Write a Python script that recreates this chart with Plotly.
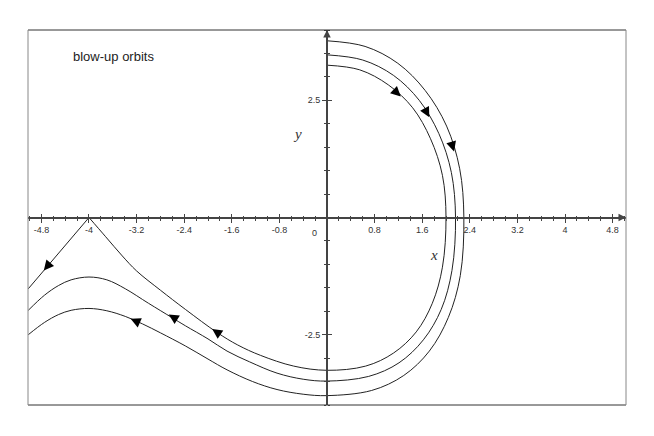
import plotly.graph_objects as go

inner_x = [0.0, 0.55, 1.03, 1.44, 1.74, 1.94, 2.0, 1.94, 1.77, 1.50, 1.12, 0.65, 0.0,
           -0.56, -1.12, -1.5, -1.84, -2.38, -2.80, -3.2, -3.44, -3.72, -4.0]
inner_y = [3.25, 3.15, 2.83, 2.34, 1.68, 0.90, 0.0, -1.06, -1.83, -2.44, -2.89, -3.17, -3.26,
           -3.17, -2.94, -2.72, -2.46, -1.96, -1.55, -1.14, -0.82, -0.41, 0.0]

# the inner orbit reaches (-4, 0) and then leaves along a straight line
escape_x = [-4.0, -5.02]
escape_y = [0.0, -1.52]

middle_x = [0.0, 0.60, 1.12, 1.55, 1.88, 2.09, 2.16, 2.10, 1.92, 1.62, 1.21, 0.70, 0.0,
            -0.4, -0.84, -1.3, -1.68, -2.0, -2.38, -2.6, -3.0, -3.39, -3.7, -4.0, -4.3, -4.51, -4.75, -5.02]
middle_y = [3.47, 3.36, 3.03, 2.50, 1.79, 0.96, 0.0, -1.13, -1.96, -2.61, -3.10, -3.39, -3.49,
            -3.45, -3.32, -3.08, -2.85, -2.59, -2.31, -2.14, -1.83, -1.52, -1.33, -1.27, -1.33, -1.45, -1.66, -1.98]

outer_x = [0.0, 0.64, 1.19, 1.65, 2.01, 2.23, 2.30, 2.24, 2.04, 1.72, 1.29, 0.75, 0.0,
           -0.4, -0.84, -1.25, -1.68, -2.0, -2.38, -2.80, -3.1, -3.39, -3.7, -4.0, -4.3, -4.51, -4.75, -5.02]
outer_y = [3.77, 3.65, 3.29, 2.71, 1.95, 1.04, 0.0, -1.24, -2.13, -2.85, -3.37, -3.69, -3.80,
           -3.77, -3.67, -3.50, -3.25, -3.02, -2.74, -2.46, -2.27, -2.11, -1.99, -1.94, -1.98, -2.07, -2.24, -2.50]

# direction arrows on the orbits: tip and a point just behind it on the curve
arrow_tip_x = [1.24, 1.72, 2.135, -1.93, -2.66, -3.30, -4.76]
arrow_tip_y = [2.58, 2.14, 1.41, -2.38, -2.07, -2.16, -1.13]
arrow_tail_x = [1.14, 1.66, 2.09, -1.80, -2.52, -3.16, -4.66]
arrow_tail_y = [2.70, 2.28, 1.60, -2.49, -2.18, -2.24, -0.98]

x_ticks = [-4.8, -4, -3.2, -2.4, -1.6, -0.8, 0, 0.8, 1.6, 2.4, 3.2, 4, 4.8]
x_labels = ["-4.8", "-4", "-3.2", "-2.4", "-1.6", "-0.8", "", "0.8", "1.6", "2.4", "3.2", "4", "4.8"]
y_ticks = [-2.5, 2.5]
y_labels = ["-2.5", "2.5"]

X_RANGE = [-5.025, 5.025]
Y_RANGE = [-4.0, 4.0]
INK = "#222"
AXIS = "#444"

fig = go.Figure()
for xs, ys in [(inner_x, inner_y), (middle_x, middle_y), (outer_x, outer_y)]:
    fig.add_trace(go.Scatter(x=xs, y=ys, mode="lines", hoverinfo="skip",
                             line=dict(color=INK, width=1, shape="spline", smoothing=1)))
fig.add_trace(go.Scatter(x=escape_x, y=escape_y, mode="lines", hoverinfo="skip",
                         line=dict(color=INK, width=1)))
# carrier for the mirrored tick axes
fig.add_trace(go.Scatter(x=[None], y=[None], xaxis="x2", yaxis="y2", hoverinfo="skip"))

tick_common = dict(tickcolor=AXIS, tickwidth=1, showgrid=False, zeroline=False)

# page body adds 8px, so the figure is shrunk and shifted to keep the frame where it belongs
fig.update_layout(
    width=646, height=428,
    margin=dict(l=20, r=28, t=22, b=31),
    paper_bgcolor="white", plot_bgcolor="white",
    showlegend=False,
    font=dict(family="Liberation Sans, Arial, sans-serif", size=9, color="#333"),
    xaxis=dict(range=X_RANGE, anchor="free", position=0.5, showline=True, linecolor=AXIS, linewidth=2,
               tickmode="array", tickvals=x_ticks, ticktext=x_labels, ticks="outside", ticklen=4,
               minor=dict(tick0=0, dtick=0.2, ticks="outside", ticklen=2, tickcolor=AXIS, showgrid=False),
               **tick_common),
    xaxis2=dict(range=X_RANGE, matches="x", overlaying="x", anchor="free", position=0.5, side="top",
                showline=False, showticklabels=False,
                tickmode="array", tickvals=x_ticks, ticks="outside", ticklen=4,
                minor=dict(tick0=0, dtick=0.2, ticks="outside", ticklen=2, tickcolor=AXIS, showgrid=False),
                **tick_common),
    yaxis=dict(range=Y_RANGE, anchor="free", position=0.5, showline=True, linecolor=AXIS, linewidth=2,
               tickmode="array", tickvals=y_ticks, ticktext=y_labels, ticks="outside", ticklen=4,
               minor=dict(tick0=0, dtick=0.5, ticks="outside", ticklen=2, tickcolor=AXIS, showgrid=False),
               **tick_common),
    yaxis2=dict(range=Y_RANGE, matches="y", overlaying="y", anchor="free", position=0.5, side="right",
                showline=False, showticklabels=False,
                tickmode="array", tickvals=y_ticks, ticks="outside", ticklen=4,
                minor=dict(tick0=0, dtick=0.5, ticks="outside", ticklen=2, tickcolor=AXIS, showgrid=False),
                **tick_common),
)

# frame: dark top and bottom, lighter sides
fig.add_shape(type="line", xref="paper", yref="paper", x0=0, y0=1, x1=1, y1=1, line=dict(color="#333", width=1))
fig.add_shape(type="line", xref="paper", yref="paper", x0=0, y0=0, x1=1, y1=0, line=dict(color="#333", width=1))
fig.add_shape(type="line", xref="paper", yref="paper", x0=0, y0=0, x1=0, y1=1, line=dict(color="#888", width=1))
fig.add_shape(type="line", xref="paper", yref="paper", x0=1, y0=0, x1=1, y1=1, line=dict(color="#888", width=1))

# arrowheads on the orbits
for tx, ty, sx, sy in zip(arrow_tip_x, arrow_tip_y, arrow_tail_x, arrow_tail_y):
    fig.add_annotation(x=tx, y=ty, ax=sx, ay=sy, xref="x", yref="y", axref="x", ayref="y",
                       text="", showarrow=True, arrowhead=2, arrowsize=2, arrowwidth=1,
                       arrowcolor="black", standoff=0)

# arrowheads at the ends of the axes
fig.add_annotation(x=X_RANGE[1], y=0, ax=X_RANGE[1] - 0.15, ay=0, xref="x", yref="y", axref="x", ayref="y",
                   text="", showarrow=True, arrowhead=2, arrowsize=0.75, arrowwidth=2, arrowcolor=AXIS)
fig.add_annotation(x=0, y=Y_RANGE[1], ax=0, ay=Y_RANGE[1] - 0.2, xref="x", yref="y", axref="x", ayref="y",
                   text="", showarrow=True, arrowhead=2, arrowsize=0.75, arrowwidth=2, arrowcolor=AXIS)

# origin label sits to the left of the y-axis
fig.add_annotation(x=0, y=0, xref="x", yref="y", text="0", showarrow=False,
                   xshift=-13, yshift=-15, font=dict(size=9, color="#333"))

fig.add_annotation(x=-0.5, y=1.79, xref="x", yref="y", text="<i>y</i>", showarrow=False,
                   font=dict(family="Liberation Serif, Times New Roman, serif", size=15, color="#333"))
fig.add_annotation(x=1.79, y=-0.81, xref="x", yref="y", text="<i>x</i>", showarrow=False,
                   font=dict(family="Liberation Serif, Times New Roman, serif", size=15, color="#333"))

fig.add_annotation(x=0.0714, y=0.928, xref="paper", yref="paper", xanchor="left", yanchor="middle",
                   text="blow-up orbits", showarrow=False, font=dict(size=13, color="#222"))

fig.write_html("out.html")
